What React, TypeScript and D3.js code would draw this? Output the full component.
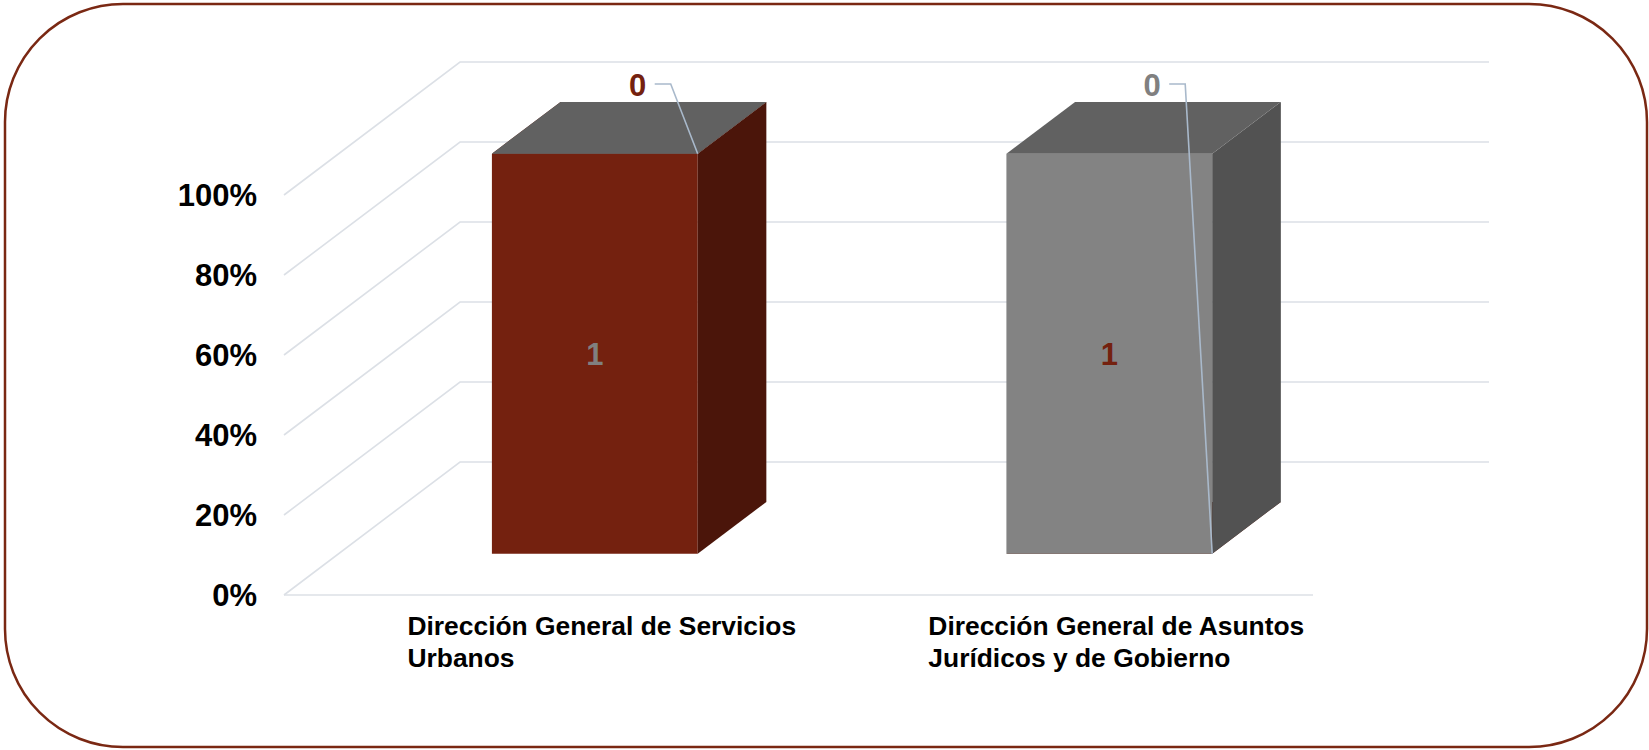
import React, { useEffect, useRef } from "react";
import * as d3 from "d3";

const categories = ["Dirección General de Servicios Urbanos", "Dirección General de Asuntos Jurídicos y de Gobierno"];
const categoryLines = [
  ["Dirección General de Servicios", "Urbanos"],
  ["Dirección General de Asuntos", "Jurídicos y de Gobierno"],
];
const seriesA = [1, 0];
const seriesB = [0, 1];
const yTicks = [0, 0.2, 0.4, 0.6, 0.8, 1];
const yTickLabels = ["0%", "20%", "40%", "60%", "80%", "100%"];

const FONT = "'Liberation Sans', Arial, Helvetica, sans-serif";

const seriesStyle = [
  { front: "#74210F", side: "#4B150A", top: "#5E1B0D", label: "#808080" },
  { front: "#838383", side: "#525252", top: "#616161", label: "#74210F" },
];

export default function App() {
  const ref = useRef<SVGSVGElement | null>(null);

  useEffect(() => {
    const svg = d3.select(ref.current);
    svg.selectAll("*").remove();

    // Frame
    svg.append("rect")
      .attr("x", 5).attr("y", 4).attr("width", 1642).attr("height", 743)
      .attr("rx", 118).attr("ry", 118)
      .attr("fill", "#ffffff").attr("stroke", "#7A2813").attr("stroke-width", 2.5);

    const x0 = 284, x1 = 1313;
    const DX = 176, DY = -133;
    const y = d3.scaleLinear().domain([0, 1]).range([595, 195]);
    const x = d3.scaleBand<string>().domain(categories).range([x0, x1]).paddingInner(0).paddingOuter(0);
    const barFrac = 0.4;
    const f0 = 0.31, f1 = 0.70;

    const grid = svg.append("g").attr("fill", "none").attr("stroke", "#DCE0E6").attr("stroke-width", 1.6);
    yTicks.forEach((t) => {
      const yf = y(t);
      grid.append("path").attr("d", `M${x0},${yf} L${x0 + DX},${yf + DY} L${x1 + DX},${yf + DY}`);
    });
    grid.append("path").attr("d", `M${x0},${y(0)} L${x1},${y(0)}`);

    svg.append("g").selectAll("text").data(yTicks).join("text")
      .attr("x", 257).attr("y", (t) => y(t))
      .attr("dy", "0.36em")
      .attr("text-anchor", "end")
      .attr("font-family", FONT).attr("font-weight", "bold").attr("font-size", 31)
      .attr("fill", "#000").text((_, i) => yTickLabels[i]);

    const P = (xf: number, v: number, f: number): [number, number] => [xf + f * DX, y(v) + f * DY];
    const poly = (pts: [number, number][]) => "M" + pts.map((p) => p.join(",")).join("L") + "Z";

    const bars = svg.append("g");
    const labels = svg.append("g");

    categories.forEach((c, i) => {
      const total = seriesA[i] + seriesB[i];
      const segs = [
        { s: 0, v0: 0, v1: seriesA[i] / total, val: seriesA[i] },
        { s: 1, v0: seriesA[i] / total, v1: 1, val: seriesB[i] },
      ];
      const bw = x.bandwidth() * barFrac;
      const xl = (x(c) as number) + (x.bandwidth() - bw) / 2 - 1;
      const xr = xl + bw;
      segs.forEach((sg) => {
        const st = seriesStyle[sg.s];
        bars.append("path").attr("d", poly([P(xl, sg.v0, f0), P(xr, sg.v0, f0), P(xr, sg.v1, f0), P(xl, sg.v1, f0)])).attr("fill", st.front);
        bars.append("path").attr("d", poly([P(xr, sg.v0, f0), P(xr, sg.v0, f1), P(xr, sg.v1, f1), P(xr, sg.v1, f0)])).attr("fill", st.side);
        bars.append("path").attr("d", poly([P(xl, sg.v1, f0), P(xr, sg.v1, f0), P(xr, sg.v1, f1), P(xl, sg.v1, f1)])).attr("fill", st.top);
      });
      segs.forEach((sg) => {
        const st = seriesStyle[sg.s];
        if (sg.v1 - sg.v0 > 0) {
          const [cx] = P((xl + xr) / 2, 0, f0);
          const cy = (P(xl, sg.v0, f0)[1] + P(xl, sg.v1, f0)[1]) / 2;
          labels.append("text").attr("x", cx).attr("y", cy).attr("dy", "0.36em")
            .attr("text-anchor", "middle").attr("font-family", FONT).attr("font-weight", "bold")
            .attr("font-size", 31).attr("fill", st.label).text(String(sg.val));
        } else {
          const [ax, ay] = P(xr, sg.v1, f0);
          const tx = ax - 60, ty = 85;
          labels.append("path")
            .attr("d", `M${tx + 17},${ty - 1} L${tx + 33},${ty - 1} L${ax},${ay}`)
            .attr("fill", "none").attr("stroke", "#A9B9CB").attr("stroke-width", 1.6);
          labels.append("text").attr("x", tx).attr("y", ty).attr("dy", "0.36em")
            .attr("text-anchor", "middle").attr("font-family", FONT).attr("font-weight", "bold")
            .attr("font-size", 31).attr("fill", st.label).text(String(sg.val));
        }
      });

      const cxLabel = P((xl + xr) / 2, 0, f0)[0] + 7;
      const g = svg.append("g");
      const t1 = g.append("text").attr("font-family", FONT).attr("font-weight", "bold").attr("font-size", 26.4)
        .attr("fill", "#000").attr("y", 635).text(categoryLines[i][0]);
      const w1 = (t1.node() as SVGTextElement).getComputedTextLength();
      const left = cxLabel - w1 / 2;
      t1.attr("x", left);
      categoryLines[i].slice(1).forEach((ln, k) => {
        g.append("text").attr("font-family", FONT).attr("font-weight", "bold").attr("font-size", 26.4)
          .attr("fill", "#000").attr("x", left).attr("y", 667 + k * 32).text(ln);
      });
    });
  }, []);

  return (
    <svg
      ref={ref}
      width={1649}
      height={750}
      style={{ position: "absolute", left: 0, top: 0, background: "#fff" }}
    />
  );
}
